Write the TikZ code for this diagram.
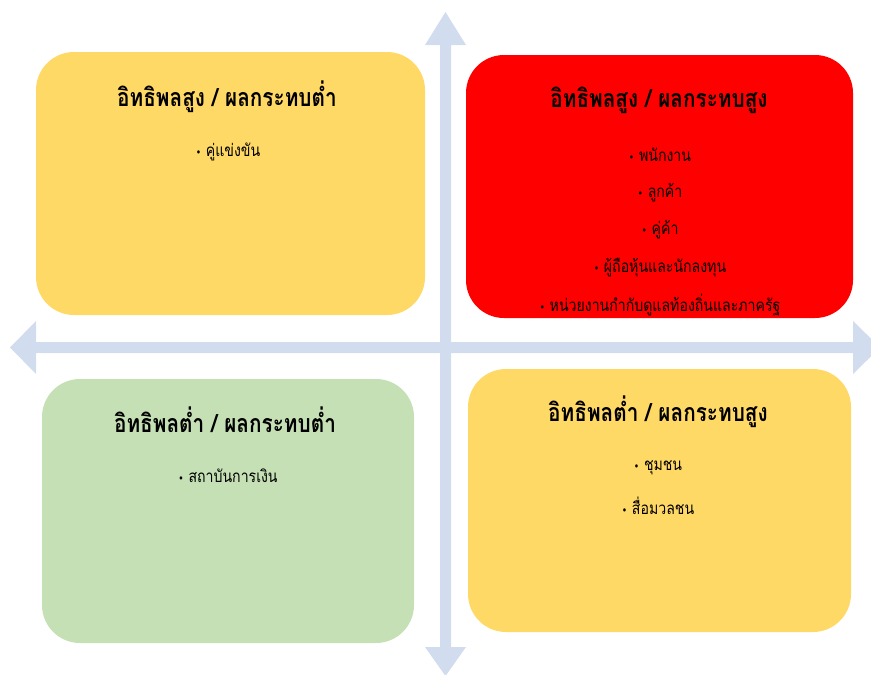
\documentclass[tikz,border=0pt]{standalone}
\usepackage{fontspec}
\usepackage{graphicx}
\newfontfamily\thaifont[Script=Thai]{Loma}
\newfontfamily\symfont{DejaVu Sans}
\usetikzlibrary{positioning}
\definecolor{axisblue}{RGB}{209,220,238}
\definecolor{quadgold}{RGB}{255,217,102}
\definecolor{quadred}{RGB}{255,0,0}
\definecolor{quadgreen}{RGB}{197,224,180}
\newcommand{\qbul}{{\symfont\fontsize{11}{12}\selectfont\char"2022}\ }
\newcommand{\thn}[1]{\scalebox{0.83}[1]{#1}}
\tikzset{
  quad/.style={rounded corners=38pt, inner sep=0pt},
  qtitle/.style={font=\thaifont\bfseries\fontsize{25}{28}\selectfont},
  qitem/.style={font=\thaifont\fontsize{17}{20}\selectfont},
}
\begin{document}
\begin{tikzpicture}[x=1pt, y=-1pt]
  \useasboundingbox (0,0) rectangle (871,675);
  \clip (0,0) rectangle (871,675);
  \fill[axisblue] (440,45) -- (425,45) -- (445.5,12) -- (466,45) -- (451,45) -- (451,647)
    -- (466,647) -- (445.5,676) -- (425,647) -- (440,647) -- cycle;
  \fill[axisblue] (36,342) -- (36,321) -- (10,347.5) -- (36,374) -- (36,353) -- (853,353)
    -- (853,374) -- (880,347.5) -- (853,321) -- (853,342) -- cycle;
  \node[quad, fill=quadgold, minimum width=389pt, minimum height=263pt] (hl) at (230.5,183.5) {};
  \node[quad, fill=quadred, minimum width=387pt, minimum height=263pt] (hh) at (659.5,186.5) {};
  \node[quad, fill=quadgreen, minimum width=372pt, minimum height=264pt] (ll) at (228,511) {};
  \node[quad, fill=quadgold, minimum width=383pt, minimum height=263pt] (lh) at (659.5,500.5) {};
  \node[qtitle] (hl title) at (227,97) {\thn{อิทธิพลสูง / ผลกระทบต่ำ}};
  \node[qtitle] (hh title) at (659,100) {\thn{อิทธิพลสูง / ผลกระทบสูง}};
  \node[qtitle] (ll title) at (225,420) {\thn{อิทธิพลต่ำ / ผลกระทบต่ำ}};
  \node[qtitle] (lh title) at (658,412) {\thn{อิทธิพลต่ำ / ผลกระทบสูง}};
  \node[qitem] (hl1) at (228,152) {\thn{\qbul คู่แข่งขัน}};
  \foreach \txt [count=\i] in {พนักงาน, ลูกค้า, คู่ค้า, ผู้ถือหุ้นและนักลงทุน, หน่วยงานกำกับดูแลท้องถิ่นและภาครัฐ}
    \node[qitem] (hh\i) at (660,{155+37.5*(\i-1)}) {\thn{\qbul \txt}};
  \node[qitem] (ll1) at (228,476) {\thn{\qbul สถาบันการเงิน}};
  \node[qitem] (lh1) at (658,468) {\thn{\qbul ชุมชน}};
  \node[qitem] (lh2) at (658,506) {\thn{\qbul สื่อมวลชน}};
\end{tikzpicture}
\end{document}
